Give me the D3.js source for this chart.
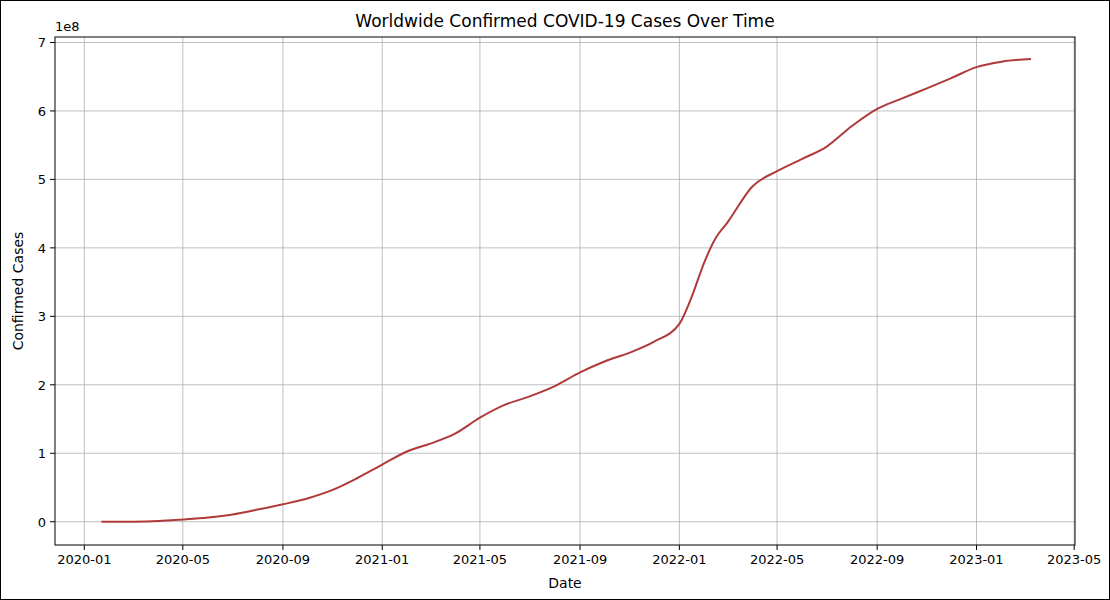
<!DOCTYPE html>
<html><head><meta charset="utf-8">
<script src="https://cdn.jsdelivr.net/npm/d3@7"></script>
<style>
body{margin:0;background:#fff;font-family:"DejaVu Sans",sans-serif;}
svg{display:block;}
</style></head>
<body>
<svg id="chart" width="1110" height="600"></svg>
<script>
// cumulative confirmed cases (millions)
var dates = ['2020-01-22','2020-03-01','2020-04-01','2020-05-01','2020-06-01','2020-07-01','2020-08-01',
  '2020-09-01','2020-10-01','2020-11-01','2020-12-01','2021-01-01','2021-02-01','2021-03-01','2021-04-01',
  '2021-05-01','2021-06-01','2021-07-01','2021-08-01','2021-09-01','2021-10-01','2021-11-01','2021-12-01',
  '2022-01-01','2022-01-15','2022-02-01','2022-02-15','2022-03-01','2022-04-01','2022-05-01','2022-06-01',
  '2022-07-01','2022-08-01','2022-09-01','2022-10-01','2022-11-01','2022-12-01','2023-01-01','2023-02-01','2023-03-09']
var cases = [0.0006,0.09,0.9,3.3,6.3,10.6,17.7,25.5,34,46.5,63.5,83.5,103,114,129,152,171,183,198,218,234,
  247,263,289,325,380,415,437,490,512,530,548,578,603,618,633,648,664,672,676]
var xTicks = ['2020-01','2020-05','2020-09','2021-01','2021-05','2021-09','2022-01','2022-05','2022-09','2023-01','2023-05']
var yTicks = [0,1,2,3,4,5,6,7]

var parse = d3.timeParse('%Y-%m-%d')
var data = dates.map(function(d, i) {return {date: parse(d), value: cases[i] * 1e6}})

var svg = d3.select('#chart')
svg.append('rect').attr('x',0.5).attr('y',0.5).attr('width',1109).attr('height',599)
  .attr('fill','none').attr('stroke','#000')

var L = 55, R = 1075, T = 37, B = 545
var x = d3.scaleTime().domain([parse('2019-11-26'), parse('2023-05-02')]).range([L, R])
var y = d3.scaleLinear().domain([-0.34e8, 7.08e8]).range([B, T])

var g = svg.append('g')
xTicks.forEach(function(t) {
  var xx = x(parse(t + '-01'))
  g.append('line').attr('x1',xx).attr('x2',xx).attr('y1',T).attr('y2',B).attr('stroke','#b0b0b0').attr('stroke-width',0.8)
  g.append('line').attr('x1',xx).attr('x2',xx).attr('y1',B).attr('y2',B+5).attr('stroke','#000')
  g.append('text').attr('x',xx).attr('y',B+19).attr('text-anchor','middle').attr('font-size',13).text(t)
})
yTicks.forEach(function(t) {
  var yy = y(t * 1e8)
  g.append('line').attr('x1',L).attr('x2',R).attr('y1',yy).attr('y2',yy).attr('stroke','#b0b0b0').attr('stroke-width',0.8)
  g.append('line').attr('x1',L-5).attr('x2',L).attr('y1',yy).attr('y2',yy).attr('stroke','#000')
  g.append('text').attr('x',L-9).attr('y',yy+5).attr('text-anchor','end').attr('font-size',13).text(t)
})

var line = d3.line().x(function(d) {return x(d.date)}).y(function(d) {return y(d.value)}).curve(d3.curveMonotoneX)
svg.append('path').datum(data).attr('d', line).attr('fill','none').attr('stroke','#b03a3a').attr('stroke-width',2)

svg.append('rect').attr('x',L).attr('y',T).attr('width',R-L).attr('height',B-T).attr('fill','none').attr('stroke','#000')

svg.append('text').attr('x',L).attr('y',T-6).attr('font-size',13).text('1e8')
svg.append('text').attr('x',(L+R)/2).attr('y',27).attr('text-anchor','middle').attr('font-size',17).text('Worldwide Confirmed COVID-19 Cases Over Time')
svg.append('text').attr('x',(L+R)/2).attr('y',588).attr('text-anchor','middle').attr('font-size',14).text('Date')
svg.append('text').attr('transform','translate(23,' + (T+B)/2 + ') rotate(-90)').attr('text-anchor','middle').attr('font-size',14).text('Confirmed Cases')
</script>
</body></html>
